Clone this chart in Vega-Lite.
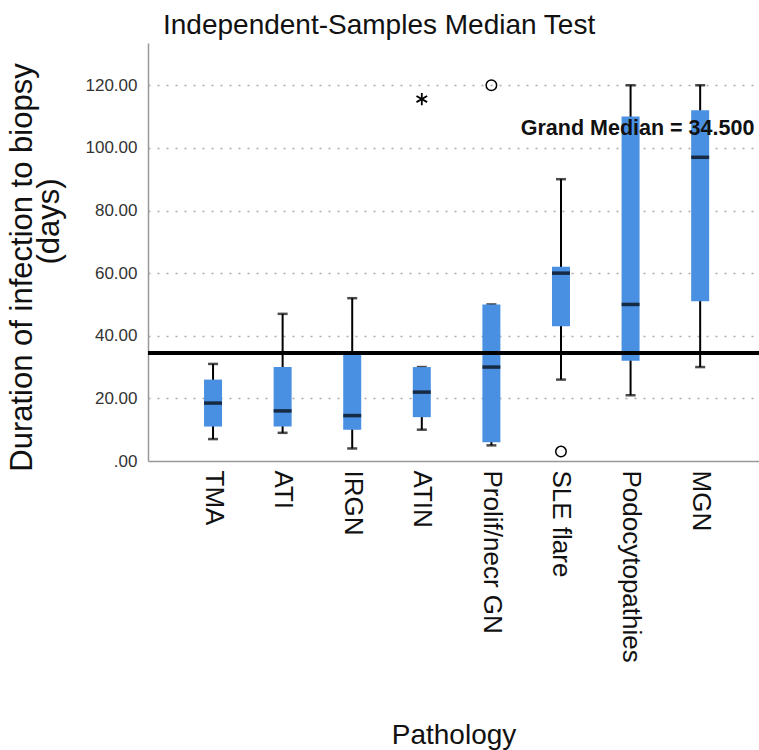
{
  "$schema": "https://vega.github.io/schema/vega-lite/v6.json",
  "width": 611,
  "height": 418,
  "autosize": "none",
  "padding": {"left": 148, "top": 43, "right": 0, "bottom": 289},
  "background": "white",
  "config": {"view": {"stroke": null}, "font": "Liberation Sans"},
  "title": {"text": "Independent-Samples Median Test", "anchor": "start", "frame": "group", "dx": 15, "fontSize": 28, "fontWeight": "normal", "font": "Liberation Sans", "color": "#111", "offset": 3},
  "datasets": {
    "boxes": [
      {"cat": "TMA", "lo": 7, "q1": 11, "med": 18.5, "q3": 26, "hi": 31},
      {"cat": "ATI", "lo": 9, "q1": 11, "med": 16, "q3": 30, "hi": 47},
      {"cat": "IRGN", "lo": 4, "q1": 10, "med": 14.5, "q3": 34, "hi": 52},
      {"cat": "ATIN", "lo": 10, "q1": 14, "med": 22, "q3": 30, "hi": 30},
      {"cat": "Prolif/necr GN", "lo": 5, "q1": 6, "med": 30, "q3": 50, "hi": 50},
      {"cat": "SLE flare", "lo": 26, "q1": 43, "med": 60, "q3": 62, "hi": 90},
      {"cat": "Podocytopathies", "lo": 21, "q1": 32, "med": 50, "q3": 110, "hi": 120},
      {"cat": "MGN", "lo": 30, "q1": 51, "med": 97, "q3": 112, "hi": 120}
    ],
    "outliers": [
      {"cat": "Prolif/necr GN", "value": 120, "kind": "outlier"},
      {"cat": "SLE flare", "value": 3, "kind": "outlier"},
      {"cat": "ATIN", "value": 115.6, "kind": "extreme"}
    ],
    "grand": [
      {"label": "Grand Median = 34.500", "median": 34.5}
    ]
  },
  "layer": [
    {
      "data": {"name": "boxes"},
      "mark": {"type": "rule", "color": "#000", "strokeWidth": 2},
      "encoding": {
        "x": {
          "field": "cat", "type": "nominal",
          "scale": {"type": "point", "domain": ["TMA", "ATI", "IRGN", "ATIN", "Prolif/necr GN", "SLE flare", "Podocytopathies", "MGN"], "padding": 0.89, "align": 0.525},
          "axis": {
            "title": "Pathology", "titleFontSize": 28, "titleFontWeight": "normal", "titleColor": "#111", "titlePadding": 60,
            "labelAngle": 90, "labelAlign": "left", "labelBaseline": "middle", "labelFontSize": 26, "labelColor": "#111", "labelPadding": 9, "labelLimit": 0,
            "ticks": false, "domainColor": "#999", "domainWidth": 1.5, "grid": false, "labelOverlap": false
          }
        },
        "y": {
          "field": "lo", "type": "quantitative",
          "scale": {"domain": [0, 133.5], "nice": false, "zero": true},
          "axis": {
            "title": ["Duration of infection to biopsy", "\u2800\u2800\u2800\u2800(days)"],
            "titleFontSize": 31, "titleFontWeight": "normal", "titleColor": "#111", "titlePadding": 20, "titleLineHeight": 27, "titleY": 224,
            "values": [0, 20, 40, 60, 80, 100, 120],
            "labelExpr": "datum.value == 0 ? '.00' : format(datum.value, '.2f')",
            "labelFontSize": 17, "labelColor": "#333", "labelPadding": 11,
            "ticks": false, "domainColor": "#999", "domainWidth": 1.5,
            "grid": true, "gridDash": [2, 7], "gridColor": "#aaa", "gridWidth": 1.5,
            "gridOpacity": {"condition": {"test": "datum.value == 0", "value": 0}, "value": 1}
          }
        },
        "y2": {"field": "hi"}
      }
    },
    {
      "data": {"name": "boxes"},
      "mark": {"type": "tick", "color": "#000", "size": 10, "thickness": 2.5},
      "encoding": {
        "x": {"field": "cat", "type": "nominal"},
        "y": {"field": "lo", "type": "quantitative"}
      }
    },
    {
      "data": {"name": "boxes"},
      "mark": {"type": "tick", "color": "#000", "size": 10, "thickness": 2.5},
      "encoding": {
        "x": {"field": "cat", "type": "nominal"},
        "y": {"field": "hi", "type": "quantitative"}
      }
    },
    {
      "data": {"name": "boxes"},
      "mark": {"type": "bar", "color": "#4a90e2", "size": 18},
      "encoding": {
        "x": {"field": "cat", "type": "nominal"},
        "y": {"field": "q1", "type": "quantitative"},
        "y2": {"field": "q3"}
      }
    },
    {
      "data": {"name": "boxes"},
      "mark": {"type": "tick", "color": "#000", "size": 18, "thickness": 3.5},
      "encoding": {
        "x": {"field": "cat", "type": "nominal"},
        "y": {"field": "med", "type": "quantitative"}
      }
    },
    {
      "data": {"name": "outliers"},
      "transform": [{"filter": "datum.kind == 'outlier'"}],
      "mark": {"type": "point", "shape": "circle", "filled": false, "color": "#000", "strokeWidth": 1.5, "size": 110, "opacity": 1},
      "encoding": {
        "x": {"field": "cat", "type": "nominal"},
        "y": {"field": "value", "type": "quantitative"}
      }
    },
    {
      "data": {"name": "outliers"},
      "transform": [{"filter": "datum.kind == 'extreme'"}],
      "mark": {"type": "point", "shape": "M0,-1L0,1M-0.87,-0.5L0.87,0.5M-0.87,0.5L0.87,-0.5", "filled": false, "color": "#000", "strokeWidth": 1.8, "size": 150, "opacity": 1},
      "encoding": {
        "x": {"field": "cat", "type": "nominal"},
        "y": {"field": "value", "type": "quantitative"}
      }
    },
    {
      "data": {"name": "grand"},
      "mark": {"type": "rule", "color": "#000", "strokeWidth": 4},
      "encoding": {
        "y": {"field": "median", "type": "quantitative"}
      }
    },
    {
      "data": {"name": "grand"},
      "mark": {"type": "text", "fontWeight": "bold", "fontSize": 21.5, "color": "#111", "align": "center", "baseline": "alphabetic", "dx": 7, "font": "Liberation Sans"},
      "encoding": {
        "x": {"datum": "Podocytopathies", "type": "nominal"},
        "y": {"datum": 104, "type": "quantitative"},
        "text": {"field": "label"}
      }
    }
  ]
}
